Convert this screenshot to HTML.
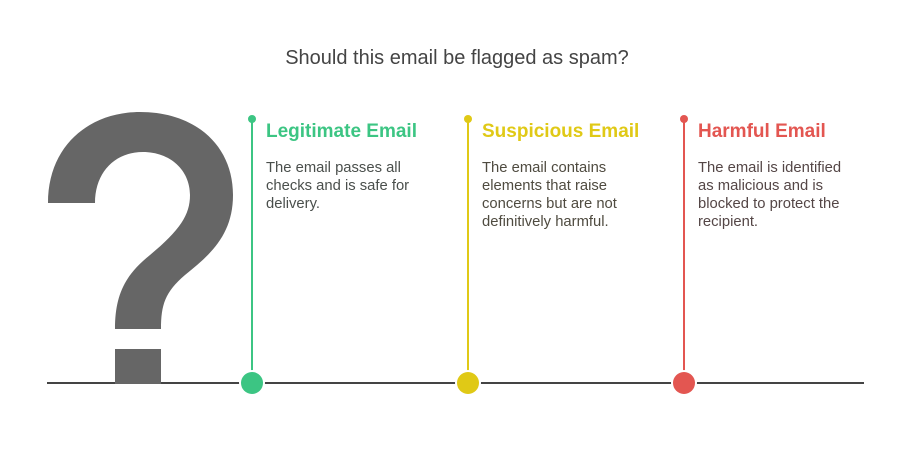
<!DOCTYPE html>
<html><head><style>
body{margin:0;width:910px;height:466px;background:#fff;font-family:"Liberation Sans",sans-serif;overflow:hidden}
svg{position:absolute;left:0;top:0}
.t{position:absolute;white-space:nowrap}
h{display:block;font-weight:bold;font-size:19px}
.b{font-size:14.8px;line-height:18px}
</style></head><body>
<svg width="910" height="466">
<line x1="47" y1="383" x2="864" y2="383" stroke="#444" stroke-width="2"/>
<path d="M48,203 C48,145 90,112 140,112 C195,112 233,145 233,195 C233,235 210,255 185,275 C165,292 161,305 161,329 L115,329 C115,295 125,275 150,255 C180,230 190,215 190,195 C190,170 170,152 143,152 C115,152 95,172 95,203 Z" fill="#666"/>
<rect x="115" y="349" width="46" height="35" fill="#666"/>
<g stroke-width="2">
<line x1="252" y1="119" x2="252" y2="383" stroke="#3cc583"/>
<line x1="468" y1="119" x2="468" y2="383" stroke="#e0c916"/>
<line x1="684" y1="119" x2="684" y2="383" stroke="#e35651"/>
</g>
<circle cx="252" cy="383" r="13" fill="#fff"/><circle cx="468" cy="383" r="13" fill="#fff"/><circle cx="684" cy="383" r="13" fill="#fff"/>
<circle cx="252" cy="119" r="4" fill="#3cc583"/><circle cx="252" cy="383" r="11" fill="#3cc583"/>
<circle cx="468" cy="119" r="4" fill="#e0c916"/><circle cx="468" cy="383" r="11" fill="#e0c916"/>
<circle cx="684" cy="119" r="4" fill="#e35651"/><circle cx="684" cy="383" r="11" fill="#e35651"/>
</svg>
<div class="t" style="left:0;width:914px;text-align:center;top:47px;font-size:20px;color:#444">Should this email be flagged as spam?</div>
<div class="t" style="left:266px;top:121px"><h style="color:#3cc583">Legitimate Email</h><div class="b" style="color:#4a4f4c;margin-top:16px">The email passes all<br>checks and is safe for<br>delivery.</div></div>
<div class="t" style="left:482px;top:121px"><h style="color:#e0c916">Suspicious Email</h><div class="b" style="color:#4f4b40;margin-top:16px">The email contains<br>elements that raise<br>concerns but are not<br>definitively harmful.</div></div>
<div class="t" style="left:698px;top:121px"><h style="color:#e35651">Harmful Email</h><div class="b" style="color:#544646;margin-top:16px">The email is identified<br>as malicious and is<br>blocked to protect the<br>recipient.</div></div>
</body></html>
